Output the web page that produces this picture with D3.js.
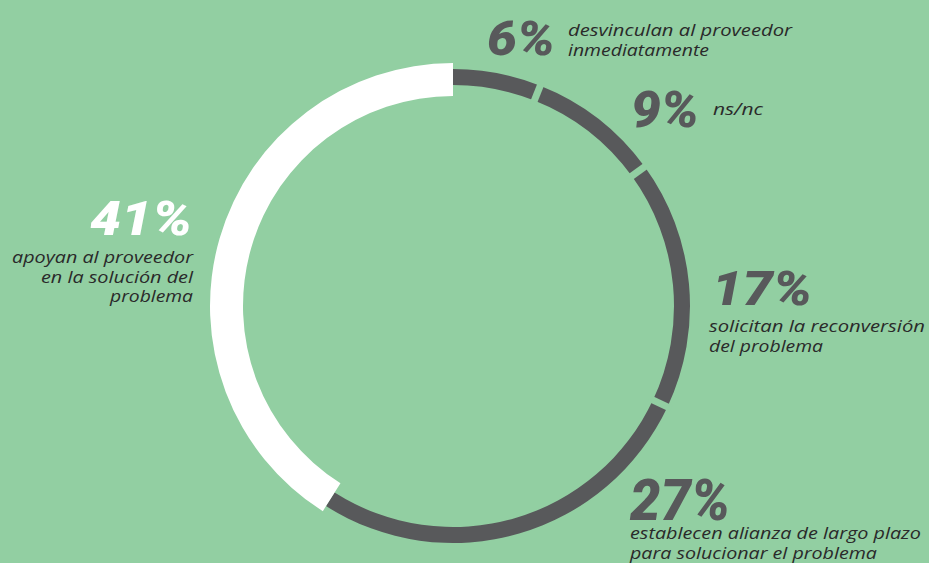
<!DOCTYPE html>
<html>
<head>
<meta charset="utf-8">
<script src="https://cdn.jsdelivr.net/npm/d3@7"></script>
<style>
  html, body { margin: 0; padding: 0; background: #92cfa2; }
  svg { display: block; }
</style>
</head>
<body>
<svg id="chart" width="929" height="563"></svg>
<script>
// ---- data ----
const categories = [
  "desvinculan al proveedor inmediatamente",
  "ns/nc",
  "solicitan la reconversión del problema",
  "establecen alianza de largo plazo para solucionar el problema",
  "apoyan al proveedor en la solución del problema"
];
const values = [6, 9, 17, 27, 41];
const valueLabels = ["6%", "9%", "17%", "27%", "41%"];
const labelLines = [
  ["desvinculan al proveedor", "inmediatamente"],
  ["ns/nc"],
  ["solicitan la reconversión", "del problema"],
  ["establecen alianza de largo plazo", "para solucionar el problema"],
  ["apoyan al proveedor", "en la solución del", "problema"]
];

// ---- layout / style ----
const bg = "#92cfa2", dark = "#58595b", white = "#ffffff", textCol = "#2a2a2a";
const cx = 453, cy = 306;
const darkR = [221, 237], whiteR = [210, 243];
const highlight = 4;

const labelLayout = [
  { nx: 487, ny: 55,  anchor: "start", nw: 68,  ns: 48, bx: 568, by: 36,  bw: [224, 141] },
  { nx: 631, ny: 127, anchor: "start", nw: 68,  ns: 49, bx: 713, by: 115, bw: [50] },
  { nx: 712, ny: 305, anchor: "start", nw: 100, ns: 48, bx: 709, by: 332, bw: [216, 114] },
  { nx: 630, ny: 520, anchor: "start", nw: 100, ns: 58, bx: 630, by: 539, bw: [291, 247] },
  { nx: 192, ny: 235, anchor: "end",   nw: 102, ns: 48, bx: 193, by: 263, bw: [181, 152, 83] }
];

const svg = d3.select("#chart");
svg.append("rect").attr("width", 929).attr("height", 563).attr("fill", bg);

const pie = d3.pie().sort(null).value(d => d);
const arcsData = pie(values);

const g = svg.append("g").attr("transform", `translate(${cx},${cy})`);

const darkArc = d3.arc().innerRadius(darkR[0]).outerRadius(darkR[1]);
const whiteArc = d3.arc().innerRadius(whiteR[0]).outerRadius(whiteR[1]);

g.selectAll("path.seg")
  .data(arcsData)
  .join("path")
  .attr("class", "seg")
  .attr("d", (d, i) => i === highlight ? whiteArc(d) : darkArc(d))
  .attr("fill", (d, i) => i === highlight ? white : dark);

// gaps between consecutive dark segments
const cuts = arcsData.filter((d, i) => i < arcsData.length - 1 && i !== highlight && (i + 1) !== highlight);
g.selectAll("line.cut")
  .data(cuts)
  .join("line")
  .attr("class", "cut")
  .attr("x1", d => Math.sin(d.endAngle) * (darkR[0] - 4))
  .attr("y1", d => -Math.cos(d.endAngle) * (darkR[0] - 4))
  .attr("x2", d => Math.sin(d.endAngle) * (darkR[1] + 4))
  .attr("y2", d => -Math.cos(d.endAngle) * (darkR[1] + 4))
  .attr("stroke", bg)
  .attr("stroke-width", 7);

// labels
const labels = svg.selectAll("g.lab")
  .data(arcsData)
  .join("g")
  .attr("class", "lab");

labels.append("text")
  .attr("x", (d, i) => labelLayout[i].nx)
  .attr("y", (d, i) => labelLayout[i].ny)
  .attr("text-anchor", (d, i) => labelLayout[i].anchor)
  .attr("font-family", "Roboto, 'Open Sans', sans-serif")
  .attr("font-weight", 900)
  .attr("font-style", "italic")
  .attr("font-size", (d, i) => labelLayout[i].ns)
  .attr("fill", (d, i) => i === highlight ? white : dark)
  .attr("textLength", (d, i) => labelLayout[i].nw)
  .attr("lengthAdjust", "spacingAndGlyphs")
  .text((d, i) => valueLabels[i]);

labels.each(function(d, i) {
  const L = labelLayout[i];
  const sel = d3.select(this);
  labelLines[i].forEach((line, k) => {
    sel.append("text")
      .attr("x", L.bx)
      .attr("y", L.by + k * 19.5)
      .attr("text-anchor", L.anchor)
      .attr("font-family", "'Open Sans', 'Noto Sans', sans-serif")
      .attr("font-style", "italic")
      .attr("font-size", 16.5)
      .attr("fill", textCol)
      .attr("textLength", L.bw[k])
      .attr("lengthAdjust", "spacingAndGlyphs")
      .text(line);
  });
});
</script>
</body>
</html>
